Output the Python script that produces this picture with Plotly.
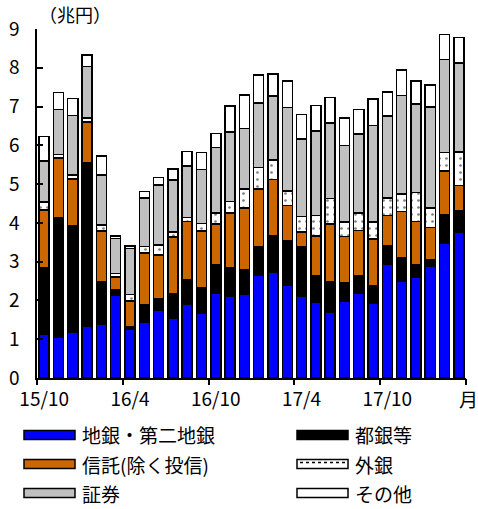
import plotly.graph_objects as go

months = ["15/10", "15/11", "15/12", "16/1", "16/2", "16/3", "16/4", "16/5", "16/6",
          "16/7", "16/8", "16/9", "16/10", "16/11", "16/12", "17/1", "17/2", "17/3",
          "17/4", "17/5", "17/6", "17/7", "17/8", "17/9", "17/10", "17/11", "17/12",
          "18/1", "18/2", "18/3"]

chigin = [1.12, 1.04, 1.17, 1.34, 1.39, 2.14, 1.26, 1.43, 1.74, 1.53, 1.90, 1.67, 2.18, 2.11, 2.16,
          2.64, 2.74, 2.38, 2.10, 1.95, 1.69, 1.97, 2.18, 1.94, 2.94, 2.50, 2.60, 2.87, 3.47, 3.77]
togin = [1.73, 3.10, 2.76, 4.21, 1.09, 0.13, 0.06, 0.45, 0.30, 0.64, 0.64, 0.67, 0.73, 0.74, 0.64,
         0.75, 0.93, 1.16, 1.28, 0.68, 0.78, 0.48, 0.45, 0.43, 0.47, 0.61, 0.31, 0.19, 0.73, 0.54]
shintaku = [1.48, 1.53, 1.20, 1.05, 1.31, 0.33, 0.67, 1.34, 1.13, 1.46, 1.49, 1.45, 1.06, 1.40, 1.58,
            1.49, 1.45, 0.91, 0.39, 1.03, 1.50, 1.20, 1.17, 1.22, 0.78, 1.19, 1.12, 0.82, 1.14, 0.66]
gaigin = [0.21, 0.10, 0.11, 0.11, 0.15, 0.10, 0.16, 0.17, 0.26, 0.13, 0.11, 0.19, 0.28, 0.30, 0.50,
          0.55, 0.50, 0.37, 0.39, 0.53, 0.66, 0.37, 0.46, 0.43, 0.45, 0.45, 0.75, 0.51, 0.47, 0.86]
shoken = [1.05, 1.16, 1.53, 1.32, 1.29, 0.90, 1.19, 1.25, 1.55, 1.34, 1.33, 1.40, 1.70, 1.80, 1.56,
          1.66, 1.65, 2.16, 2.00, 2.18, 1.94, 1.98, 2.03, 2.49, 2.12, 2.53, 2.28, 2.60, 2.41, 2.29]
sonota = [0.64, 0.43, 0.44, 0.30, 0.50, 0.06, 0.06, 0.17, 0.19, 0.29, 0.37, 0.43, 0.36, 0.67, 0.86,
          0.73, 0.57, 0.68, 0.64, 0.66, 0.66, 0.70, 0.64, 0.69, 0.61, 0.66, 0.60, 0.57, 0.64, 0.66]

tick_labels = ["15/10", "16/4", "16/10", "17/4", "17/10"]
series_names = ["地銀・第二地銀", "都銀等", "信託(除く投信)", "外銀", "証券", "その他"]
series_values = [chigin, togin, shintaku, gaigin, shoken, sonota]
series_colors = ["#0000FF", "#000000", "#CC6600", "#FFFFFF", "#C0C0C0", "#FFFFFF"]

FONT = "Noto Sans CJK JP"
W, H = 478, 509
L, R, T, B = 37, 12, 29, 131
PW, PH = W - L - R, H - T - B


def px(x):
    return (x - L) / PW


def py(y):
    return (H - B - y) / PH


fig = go.Figure()
for name, vals, col in zip(series_names, series_values, series_colors):
    marker = dict(color=col, line=dict(color="black", width=1.5))
    if name == "外銀":
        marker["pattern"] = dict(shape=".", fgcolor="black", bgcolor="white",
                                 size=7, solidity=0.12)
    fig.add_trace(go.Bar(x=months, y=vals, name=name, marker=marker, showlegend=False))

# invisible trace to activate boundary-tick axis
fig.add_trace(go.Scatter(x=[-0.5], y=[0], xaxis="x2", mode="markers",
                         marker=dict(opacity=0), showlegend=False, hoverinfo="skip"))

fig.update_layout(
    width=W, height=H, autosize=False,
    margin=dict(l=L, r=R, t=T, b=B, autoexpand=False),
    barmode="stack", bargap=0.3,
    plot_bgcolor="white", paper_bgcolor="white",
    font=dict(family=FONT, size=19, color="black"),
    xaxis=dict(type="category", range=[-0.5, 29.5], tickmode="array",
               tickvals=tick_labels, ticktext=tick_labels, ticks="",
               showline=True, linecolor="black", linewidth=1.5, showgrid=False,
               tickfont=dict(size=19), ticklabelstandoff=3, automargin=False),
    xaxis2=dict(overlaying="x", anchor="y", side="bottom", range=[-0.5, 29.5],
                tickmode="array", tickvals=[-0.5, 5.5, 11.5, 17.5, 23.5, 29.5],
                ticks="outside", ticklen=6, tickwidth=1.5, tickcolor="black",
                showticklabels=False, showline=False, showgrid=False, zeroline=False,
                automargin=False),
    yaxis=dict(range=[0, 9], dtick=1, ticks="inside", ticklen=6, tickwidth=1.5,
               tickcolor="black", showline=True, linecolor="black", linewidth=1.5,
               showgrid=False, zeroline=False, tickfont=dict(size=19),
               ticklabelstandoff=12, automargin=False),
)

annotations = [
    dict(x=px(75), y=py(14), xref="paper", yref="paper", text="（兆円）",
         showarrow=False, font=dict(size=18), xanchor="center", yanchor="middle"),
    dict(x=px(468), y=py(398), xref="paper", yref="paper", text="月",
         showarrow=False, font=dict(size=19), xanchor="center", yanchor="middle"),
]
shapes = []
legend_layout = [
    ("地銀・第二地銀", "#0000FF", 24, 435),
    ("都銀等", "#000000", 297, 435),
    ("信託(除く投信)", "#CC6600", 24, 464),
    ("外銀", "#FFFFFF", 297, 464),
    ("証券", "#C0C0C0", 24, 493),
    ("その他", "#FFFFFF", 297, 493),
]
for name, col, x0, yc in legend_layout:
    shapes.append(dict(type="rect", xref="paper", yref="paper",
                       x0=px(x0), x1=px(x0 + 51), y0=py(yc + 4.5), y1=py(yc - 4.5),
                       fillcolor=col, line=dict(color="black", width=1.5)))
    if name == "外銀":
        shapes.append(dict(type="line", xref="paper", yref="paper",
                           x0=px(x0 + 3), x1=px(x0 + 48), y0=py(yc - 1.5), y1=py(yc - 1.5),
                           line=dict(color="black", width=1.5, dash="dot")))
    annotations.append(dict(x=px(x0 + 56), y=py(yc), xref="paper", yref="paper",
                            text=name, showarrow=False, xanchor="left", yanchor="middle",
                            font=dict(size=19)))

fig.update_layout(annotations=annotations, shapes=shapes)
fig.write_html("out.html", config={"displayModeBar": False},
               post_script="document.body.style.margin='0';document.body.style.overflow='hidden';")
